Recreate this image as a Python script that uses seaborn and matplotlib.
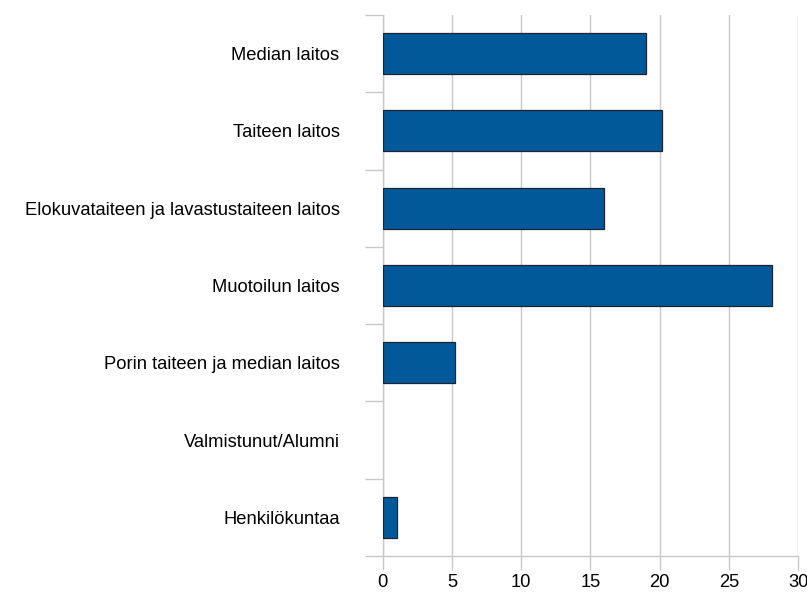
import numpy as np
import pandas as pd
import matplotlib
matplotlib.use("Agg")
import matplotlib.pyplot as plt
import seaborn as sns

# data
categories = [
    "Median laitos",
    "Taiteen laitos",
    "Elokuvataiteen ja lavastustaiteen laitos",
    "Muotoilun laitos",
    "Porin taiteen ja median laitos",
    "Valmistunut/Alumni",
    "Henkilökuntaa",
]
values = [19.0, 20.2, 16.0, 28.15, 5.25, 0.0, 1.0]
x_ticks = [0, 5, 10, 15, 20, 25, 30]

df = pd.DataFrame({"category": categories, "value": values})

sns.set_style("white")
plt.rcParams["font.family"] = ["Liberation Sans", "DejaVu Sans"]
plt.rcParams["text.color"] = "black"
plt.rcParams["xtick.color"] = "black"
plt.rcParams["ytick.color"] = "black"

fig = plt.figure(figsize=(8.07, 5.94), dpi=100)
ax = fig.add_axes([0.4742, 0.064, 0.5147, 0.9107])

sns.barplot(
    data=df,
    x="value",
    y="category",
    order=categories,
    orient="h",
    color="#02599a",
    saturation=1,
    width=0.53,
    edgecolor="#1c2433",
    linewidth=0.9,
    ax=ax,
    zorder=3,
)

# empty bars should leave no outline behind
for bar in ax.patches:
    if bar.get_width() == 0:
        bar.set_linewidth(0)

grid_color = "#c8c8c8"
ax.set_xlim(0, 30)
ax.set_ylim(len(categories) - 0.5, -0.5)
ax.set_xticks(x_ticks)
ax.set_xticklabels([str(t) for t in x_ticks])
ax.xaxis.grid(True, color=grid_color, linewidth=1, zorder=0)
ax.set_axisbelow(True)

# y ticks sit on the category boundaries, labels in the middle
ax.set_yticks(np.arange(len(categories)))
ax.set_yticks(np.arange(len(categories) + 1) - 0.5, minor=True)
ax.tick_params(axis="y", which="major", left=True, length=0, pad=31, labelsize=13.2,
               labelcolor="black")
ax.tick_params(axis="y", which="minor", left=True, length=13, width=1, color=grid_color,
               direction="out")
ax.tick_params(axis="x", which="major", bottom=True, length=10, width=1, color=grid_color,
               direction="out", pad=3, labelsize=13.2, labelcolor="black")

ax.set_xlabel("")
ax.set_ylabel("")
for side in ["top", "right"]:
    ax.spines[side].set_visible(False)
for side in ["left", "bottom"]:
    ax.spines[side].set_color(grid_color)
    ax.spines[side].set_linewidth(1)

fig.savefig("out.png", dpi=100)
